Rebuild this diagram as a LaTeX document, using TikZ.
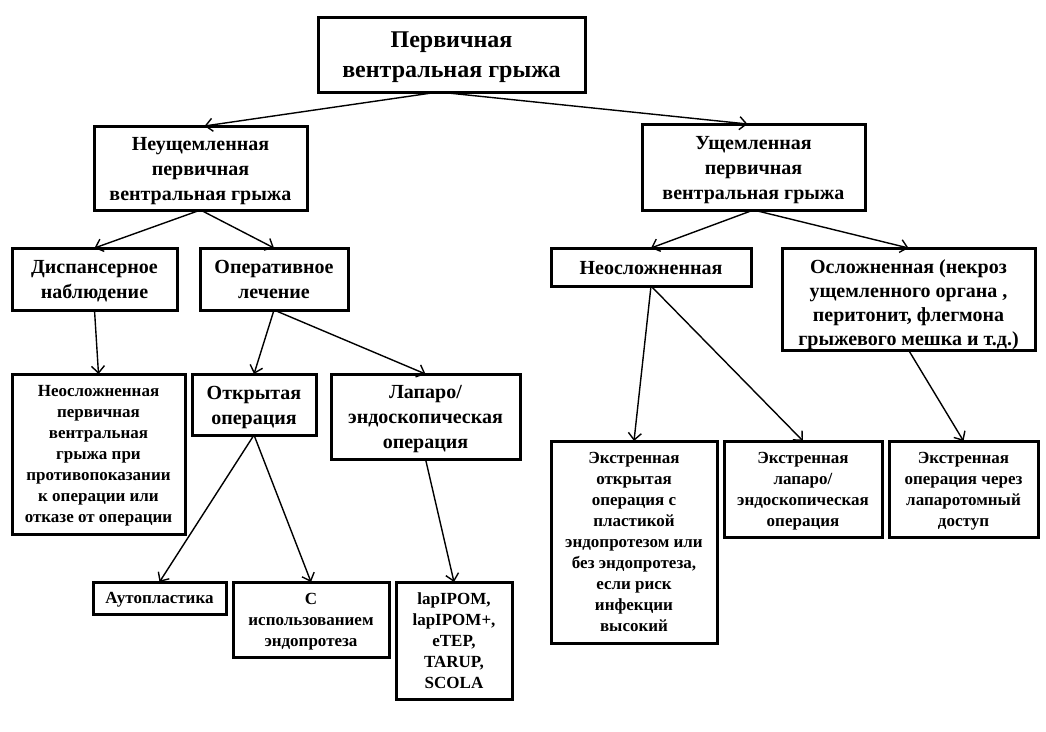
\documentclass[tikz,border=0pt]{standalone}
\usepackage{fontspec}
\setmainfont{Liberation Serif}
\usepackage{tikz}
\usetikzlibrary{arrows.meta, positioning}

% line strut, so that text sits in its box the way a word processor puts it
\newcommand{\ls}{\rule[-0.22\baselineskip]{0pt}{\baselineskip}}

\begin{document}
\begin{tikzpicture}[x=1pt, y=-1pt,
		box/.style={draw, line width=3pt, align=center, inner sep=0pt, outer sep=0pt,
			font=\bfseries\fontsize{20}{25}\selectfont},
		small/.style={box, font=\bfseries\fontsize{17}{21}\selectfont},
		arr/.style={line width=1.4pt, -{Straight Barb[length=7pt, width=13pt, line width=1.4pt]}}]
			\useasboundingbox (0,0) rectangle (1046,731);
			% top level
			\node[box, minimum width=267, minimum height=75, font=\bfseries\fontsize{24}{30}\selectfont] (top) at (451.5,54.5) {\ls Первичная\\вентральная грыжа\ls};
			\node[box, minimum width=213, minimum height=84] (neu) at (200.5,168) {\ls Неущемленная\\первичная\\вентральная грыжа\ls};
			\node[box, minimum width=223, minimum height=86] (ush) at (753.5,167) {\ls Ущемленная\\первичная\\вентральная грыжа\ls};
			% second level
			\node[box, minimum width=165, minimum height=62] (disp) at (94.5,279) {\ls Диспансерное\\наблюдение\ls};
			\node[box, minimum width=148, minimum height=62] (oper) at (274,279) {\ls Оперативное\\лечение\ls};
			\node[box, minimum width=200, minimum height=38] (neosl) at (651,267) {\ls Неосложненная};
			\node[box, minimum width=253, minimum height=102, font=\bfseries\fontsize{20}{24}\selectfont] (osl) at (908.5,299) {\rule{0pt}{21pt}Осложненная (некроз\\ущемленного органа ,\\перитонит, флегмона\\\smash{грыжевого мешка и т.д.)}};
			% third level
			\node[small, minimum width=173, minimum height=160] (nocontra) at (98.5,454) {\ls Неосложненная\\первичная\\вентральная\\грыжа при\\противопоказании\\к операции или\\отказе от операции\ls};
			\node[box, minimum width=124, minimum height=61] (otkr) at (254,404.5) {\ls Открытая\\операция\ls};
			\node[box, minimum width=189, minimum height=85] (lap) at (425.5,416.5) {\ls Лапаро/\\эндоскопическая\\операция\ls};
			\node[small, minimum width=166, minimum height=202] (ekotkr) at (634,542) {\ls Экстренная\\открытая\\операция с\\пластикой\\эндопротезом или\\без эндопротеза,\\если риск\\инфекции\\высокий\ls};
			\node[small, minimum width=158, minimum height=96] (eklap) at (803,489) {\ls Экстренная\\лапаро/\\эндоскопическая\\операция\ls};
			\node[small, minimum width=149, minimum height=96] (ekvia) at (963.5,489) {\ls Экстренная\\операция через\\лапаротомный\\доступ\ls};
			% bottom level
			\node[small, minimum width=133, minimum height=32] (auto) at (159.5,598) {\ls Аутопластика};
			\node[small, minimum width=156, minimum height=75] (sisp) at (311,619.5) {\ls С\\использованием\\эндопротеза\ls};
			\node[small, minimum width=116, minimum height=117] (lapipom) at (454,640.5) {\ls lapIPOM,\\lapIPOM+,\\eTEP,\\TARUP,\\SCOLA\ls};
			% connectors
			\draw[arr] ([xshift=-13pt]top.south) -- ([xshift=4pt]neu.north);
			\draw[arr] ([xshift=-13pt]top.south) -- ([xshift=-6pt]ush.north);
			\foreach \a/\b in {neu/disp, neu/oper, ush/neosl, ush/osl, disp/nocontra, oper/otkr, oper/lap,
				otkr/auto, otkr/sisp, lap/lapipom, neosl/ekotkr, neosl/eklap, osl/ekvia}{
				\draw[arr] (\a.south) -- (\b.north);
			}
		\end{tikzpicture}
\end{document}
